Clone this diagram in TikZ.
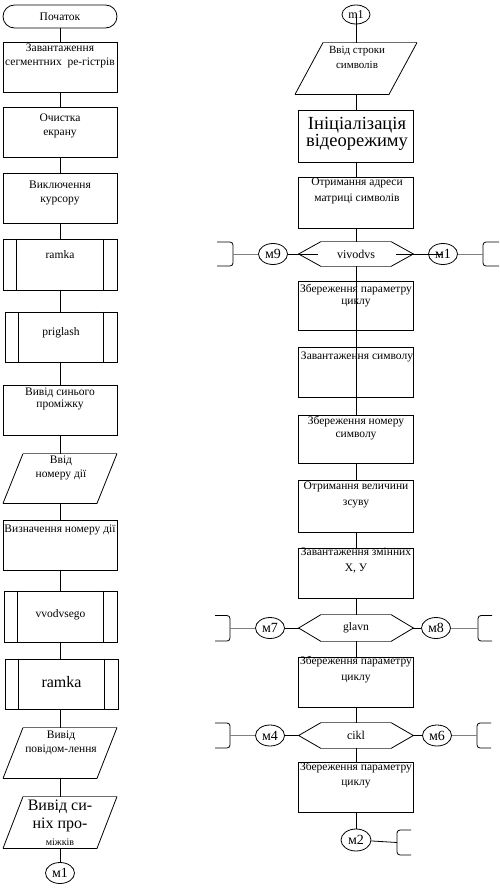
\documentclass[tikz,border=0pt]{standalone}
\usepackage{fontspec}
\setmainfont{Liberation Serif}
\usetikzlibrary{shapes.geometric,calc}
\newcommand{\drawpara}[3]{%
  \draw ($(#1.south)+(-#2-#3,0)$) -- ($(#1.north)+(-#2+#3,0)$);
  \draw[edgetwo] ($(#1.north)+(-#2+#3,0)$) -- ($(#1.north)+(#2+#3,0)$);
  \draw ($(#1.north)+(#2+#3,0)$) -- ($(#1.south)+(#2-#3,0)$) -- ($(#1.south)+(-#2-#3,0)$);}
\newcommand{\drawhex}[1]{%
  \draw ($(#1.north)+(-35,0)$) -- (#1.west) -- ($(#1.south)+(-35,0)$);
  \draw ($(#1.north)+(35,0)$) -- (#1.east) -- ($(#1.south)+(35,0)$);
  \draw[edgetwo] ($(#1.north)+(-35,0)$) -- ($(#1.north)+(35,0)$);
  \draw[edgetwo] ($(#1.south)+(-35,0)$) -- ($(#1.south)+(35,0)$);}
\newcommand{\drawsub}[1]{%
  \draw ($(#1.north west)+(14,0)$) -- ($(#1.south west)+(14,0)$);
  \draw ($(#1.north east)+(-14,0)$) -- ($(#1.south east)+(-14,0)$);}
\begin{document}
\begin{tikzpicture}[x=1pt,y=-1pt,
  line width=0.8pt,
  box/.style={draw, rectangle, inner sep=0pt, minimum width=114pt, minimum height=50pt},
  frame/.style={draw=none, rectangle, inner sep=0pt, minimum width=114pt, minimum height=50pt},
  txt/.style={align=center, inner sep=0pt, font=\fontsize{11.5}{14}\selectfont},
  circ/.style={draw, ellipse, inner sep=0pt, minimum width=29pt, minimum height=21pt, font=\fontsize{14}{14}\selectfont},
  side/.style={draw=gray, line width=0.8pt},
  edgetwo/.style={draw=gray!85!black, line width=1.4pt},
  brk/.style={draw, line width=0.8pt, rounded corners=3pt}
]
\useasboundingbox (0,0) rectangle (500,891);

% ---------- left column ----------
\node[box, minimum height=23pt, rounded corners=11.5pt, font=\fontsize{11.5}{14}\selectfont] (start) at (60,16.5) {Початок};
\node[box] (b1) at (60,67) {};
\node[txt] (t1) at (60,55.5) {Завантаження\\сегментних~ ре-гістрів};
\node[box] (b2) at (60,132) {};
\node[txt] (t2) at (60,126) {Очистка\\екрану};
\node[box] (b3) at (60,198) {};
\node[txt] (t3) at (60,192.5) {Виключення\\курсору};
\node[box, minimum height=51pt] (r1) at (60,264.5) {};
\drawsub{r1}
\node[txt] (tr1) at (60,255) {ramka};
\node[box, minimum width=112pt] (r2) at (61,337) {};
\drawsub{r2}
\node[txt] (tr2) at (61,333) {priglash};
\node[box] (b4) at (60,410) {};
\node[txt, font=\fontsize{11.5}{12.5}\selectfont] (t4) at (60,399) {Вивід синього\\проміжку};
\node[frame, minimum height=49pt] (p1) at (60,478.5) {};
\drawpara{p1}{47}{10}
\node[txt] (tp1) at (61,468) {Ввід\\номеру дії};
\node[box] (b5) at (60,545) {};
\node[txt] (t5) at (60,530) {Визначення номеру дії};
\node[box, minimum width=113pt, minimum height=51pt] (r3) at (60.5,616.5) {};
\drawsub{r3}
\node[txt] (tr3) at (60.5,615) {vvodvsego};
\node[box, minimum width=113pt] (r4) at (61.5,684) {};
\drawsub{r4}
\node[txt, font=\fontsize{16}{16}\selectfont] (tr4) at (61.5,682) {ramka};
\node[frame] (p2) at (60,753) {};
\drawpara{p2}{47}{10}
\node[txt] (tp2) at (61,742.5) {Вивід\\повідом-лення};
\node[frame, minimum height=51pt] (p3) at (60,822.5) {};
\drawpara{p3}{47}{10}
\node[txt, font=\fontsize{16}{18}\selectfont] (tp3) at (60,816) {Вивід си-\\ніх про-};
\node[txt, font=\fontsize{10}{10}\selectfont] (tp3b) at (60,842) {міжків};
\node[circ] (cL) at (60,873) {м1};

\draw (start) -- (b1);
\draw (b1) -- (b2);
\draw (b2) -- (b3);
\draw (b3) -- (r1);
\draw (r1) -- (r2.north -| r1.south);
\draw (r2.south -| b4.north) -- (b4);
\draw (b4) -- (p1.north);
\draw (p1.south) -- (b5);
\draw (b5) -- (r3.north -| b5.south);
\draw (r3.south -| b5.south) -- (r4.north -| b5.south);
\draw (r4.south -| b5.south) -- (p2.north);
\draw (p2.south) -- (p3.north);
\draw (p3.south) -- (cL);

% ---------- right column ----------
\node[circ, minimum width=28pt, minimum height=19pt, font=\fontsize{12}{12}\selectfont] (m1t) at (356,14.5) {m1};
\node[frame, minimum height=51pt] (pR) at (356,68.5) {};
\drawpara{pR}{47}{14}
\node[txt, font=\fontsize{11}{15}\selectfont] (tpR) at (357,57.5) {Ввід строки\\символів};
\node[box, minimum width=115pt, minimum height=52pt] (init) at (356,136) {};
\node[txt, font=\fontsize{18.5}{17}\selectfont] (tinit) at (357,134) {Ініціалізація\\відеорежиму};
\node[box, minimum width=115pt, minimum height=51pt] (adr) at (356,202.5) {};
\node[txt, font=\fontsize{11.5}{16}\selectfont] (tadr) at (357,191) {Отримання адреси\\матриці символів};
\node[frame, minimum width=114pt, minimum height=24pt, font=\fontsize{12}{12}\selectfont] (hex1) at (356,254) {vivodvs};
\drawhex{hex1}
\node[box, minimum width=115pt, minimum height=49pt] (zp1) at (356,305.5) {};
\node[txt, font=\fontsize{11.5}{12}\selectfont] (tzp1) at (356,296) {Збереження параметру\\циклу};
\node[box, minimum width=115pt] (zs) at (356,372) {};
\node[txt] (tzs) at (357,357) {Завантаження символу};
\node[box, minimum width=115pt, minimum height=48pt] (znom) at (356,439) {};
\node[txt, font=\fontsize{11.5}{13}\selectfont] (tznom) at (356,428.5) {Збереження номеру\\символу};
\node[box, minimum width=115pt, minimum height=52pt] (vel) at (356,506) {};
\node[txt, font=\fontsize{11.5}{16}\selectfont] (tvel) at (356,494.5) {Отримання величини\\зсуву};
\node[box, minimum width=115pt] (zm) at (356,573) {};
\node[txt, font=\fontsize{11.5}{16}\selectfont] (tzm) at (356,561) {Завантаження змінних\\Х, У};
\node[frame, minimum width=114pt, minimum height=26pt, font=\fontsize{11.5}{12}\selectfont] (hex2) at (356,628) {glavn};
\drawhex{hex2}
\node[box, minimum width=115pt] (zp2) at (356,682) {};
\node[txt, font=\fontsize{11.5}{16}\selectfont] (tzp2) at (356,670) {Збереження параметру\\циклу};
\node[frame, minimum width=114pt, minimum height=25pt, font=\fontsize{12}{12}\selectfont] (hex3) at (356,735.5) {cikl};
\drawhex{hex3}
\node[box, minimum width=115pt] (zp3) at (356,787) {};
\node[txt, font=\fontsize{11.5}{15}\selectfont] (tzp3) at (356,775.5) {Збереження параметру\\циклу};
\node[circ, minimum width=30pt, minimum height=22pt] (m2) at (356,840) {м2};

\draw (m1t.center) -- (pR.north);
\draw (pR.south) -- (init);
\draw (init) -- (adr);
\draw (adr) -- (hex1.north);
\draw (hex1.south) -- (znom.north);
\draw (znom) -- (vel);
\draw (vel) -- (zm);
\draw (zm) -- (hex2.north);
\draw (hex2.south) -- (zp2);
\draw (zp2) -- (hex3.north);
\draw (hex3.south) -- (zp3);
\draw (zp3) -- (m2);

% ---------- side connectors ----------
\node[circ] (m9) at (273,254) {м9};
\node[circ] (m1r) at (443,254) {м1};
\coordinate (vin1) at (318,254);
\coordinate (vin2) at (396,254);
\coordinate (bl1) at (233,254);
\coordinate (br1) at (483,254);
\draw[brk] (217,242) -- (233,242) -- (233,266) -- (217,266);
\draw[brk] (499,242) -- (483,242) -- (483,266) -- (499,266);
\draw[side] (bl1) -- (m9);
\draw (m9) -- (vin1);
\draw (vin2) -- (m1r.center);
\draw[side] (m1r) -- (br1);

\node[circ] (m7) at (270,628) {м7};
\node[circ] (m8) at (436,628) {м8};
\coordinate (bl2) at (230,628);
\coordinate (br2) at (478,628);
\draw[brk] (215,615.5) -- (230,615.5) -- (230,641) -- (215,641);
\draw[brk] (492,615.5) -- (478,615.5) -- (478,641) -- (492,641);
\draw[side] (bl2) -- (m7);
\draw (m7) -- (hex2.west);
\draw (hex2.east) -- (m8);
\draw[side] (m8) -- (br2);

\node[circ] (m4) at (270,735.5) {м4};
\node[circ] (m6) at (437,735.5) {м6};
\coordinate (bl3) at (230,735.5);
\coordinate (br3) at (477,735.5);
\draw[brk] (215,723) -- (230,723) -- (230,748) -- (215,748);
\draw[brk] (491,723) -- (477,723) -- (477,748) -- (491,748);
\draw[side] (bl3) -- (m4);
\draw (m4) -- (hex3.west);
\draw (hex3.east) -- (m6);
\draw[side] (m6) -- (br3);

\coordinate (br4) at (397,842.5);
\draw[brk] (411,830) -- (397,830) -- (397,855) -- (411,855);
\draw (m2) -- (br4);
\end{tikzpicture}
\end{document}
